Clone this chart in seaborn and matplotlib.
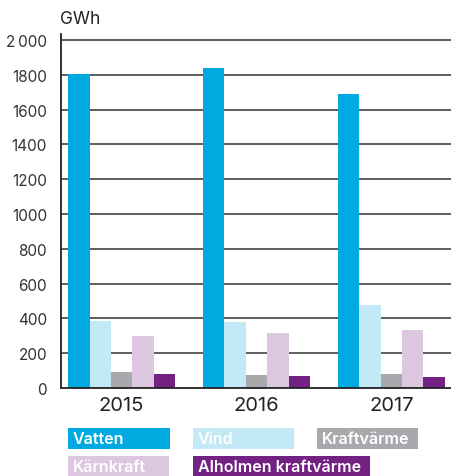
import numpy as np
import pandas as pd
import matplotlib
matplotlib.use("Agg")
import matplotlib.pyplot as plt
from matplotlib.patches import Rectangle
import seaborn as sns

years = ["2015", "2016", "2017"]
sources = ["Vatten", "Vind", "Kraftvärme", "Kärnkraft", "Alholmen kraftvärme"]
vatten = [1803, 1840, 1690]
vind = [387, 379, 477]
kraftvarme = [92, 73, 82]
karnkraft = [299, 316, 333]
alholmen = [80, 69, 63]
colors = ["#00a9e0", "#c3e9f7", "#a7a9ac", "#dcc6e0", "#732283"]
yticks = [0, 200, 400, 600, 800, 1000, 1200, 1400, 1600, 1800, 2000]
ytick_labels = ["0", "200", "400", "600", "800", "1000", "1200", "1400", "1600", "1800", "2\u2009000"]

df = pd.DataFrame({
    "year": np.repeat(years, len(sources)),
    "source": sources * len(years),
    "gwh": [v for row in zip(vatten, vind, kraftvarme, karnkraft, alholmen) for v in row],
})

sns.set_style("white")
plt.rcParams["font.family"] = ["Inter", "DejaVu Sans"]

fig = plt.figure(figsize=(4.52, 4.77), dpi=100)
ax = fig.add_axes([61 / 452, 1 - 389 / 477, 1 - 61 / 452, (389 - 35) / 477])

for y in yticks[1:]:
    ax.axhline(y, color="#333333", lw=1.1, zorder=0)

sns.barplot(data=df, x="year", y="gwh", hue="source", hue_order=sources,
            palette=colors, width=0.795, saturation=1, linewidth=0,
            legend=False, ax=ax, zorder=2)

ax.set_xlim(-0.45, 2.45)
ax.set_ylim(0, 2035)
ax.set_yticks(yticks)
ax.set_yticklabels(ytick_labels, fontsize=11, color="#333333")
ax.tick_params(axis="x", labelsize=14.5, colors="#222222", pad=6, length=0)
ax.tick_params(axis="y", length=0, pad=10)
ax.set_xlabel("")
ax.set_ylabel("")
for s in ["top", "right"]:
    ax.spines[s].set_visible(False)
ax.spines["left"].set_color("#222222")
ax.spines["bottom"].set_color("#222222")
ax.spines["left"].set_linewidth(1.3)
ax.spines["bottom"].set_linewidth(1.3)

fig.text(60 / 452, 1 - 20 / 477, "GWh", fontsize=12.5, color="#222222", va="center", ha="left")

# legend boxes
W, H = 452, 477
boxes = [
    (68, 429, 102, 21),
    (193, 429, 101, 21),
    (317, 429, 101, 21),
    (68, 457, 101, 21),
    (193, 457, 177, 21),
]
for (x, y, w, h), label, c in zip(boxes, sources, colors):
    fig.patches.append(Rectangle((x / W, 1 - (y + h) / H), w / W, h / H,
                                 transform=fig.transFigure, color=c, lw=0))
    fig.text((x + 5) / W, 1 - (y + h / 2) / H, label, fontsize=11.5,
             fontweight="semibold", color="white", va="center", ha="left")

fig.savefig("out.png", dpi=100)
